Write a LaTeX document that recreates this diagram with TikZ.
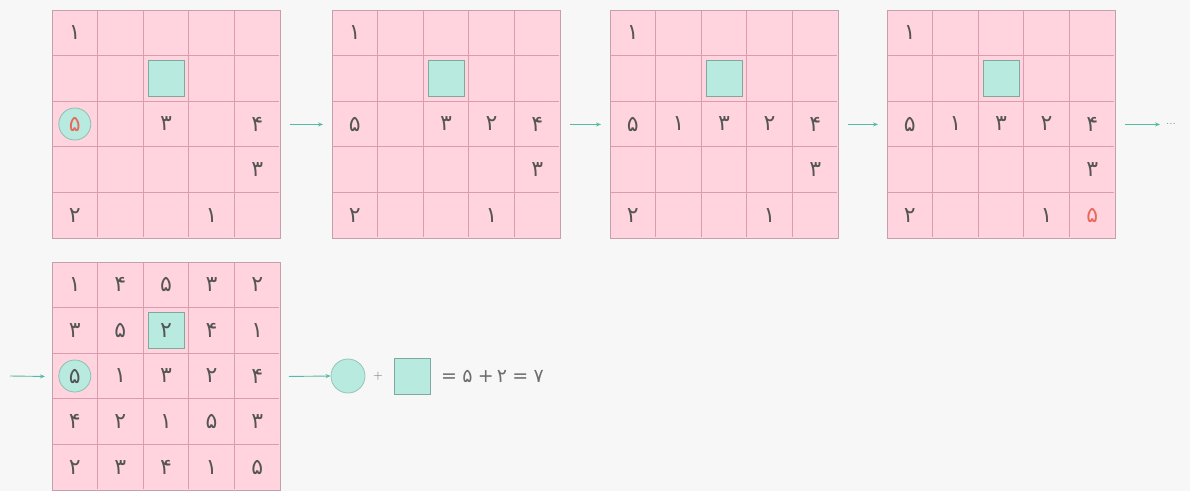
\documentclass[tikz,border=0pt]{standalone}
\usepackage{fontspec}
\newfontfamily\fa[Script=Arabic]{DejaVu Sans}
\usetikzlibrary{arrows.meta}
\definecolor{bgc}{HTML}{F7F7F7}
\definecolor{pinkfill}{HTML}{FFD4DF}
\definecolor{pinkline}{HTML}{DB9CB0}
\definecolor{pinkborder}{HTML}{C4A0AC}
\definecolor{hlfill}{HTML}{B8EAE0}
\definecolor{hlline}{HTML}{7FA99C}
\definecolor{arrc}{HTML}{55BBA2}
\definecolor{digc}{HTML}{555555}
\definecolor{redc}{HTML}{E8685A}
\tikzset{
  gridbox/.style={draw=pinkborder, fill=pinkfill, minimum width=228, minimum height=228, inner sep=0pt, line width=0.9pt, anchor=north west},
  cellline/.style={draw=pinkline, line width=1.1pt},
  dig/.style={font=\fa\fontsize{22}{22}\selectfont, text=digc, inner sep=0pt},
  reddig/.style={dig, text=redc},
  sqhl/.style={draw=hlline, fill=hlfill, minimum size=36, inner sep=0pt, line width=0.8pt},
  circhl/.style={circle, draw=hlline!70!hlfill, fill=hlfill, minimum size=32, inner sep=0pt, line width=0.8pt},
  arr/.style={draw=arrc, line width=0.9pt, -{Stealth[length=5pt,width=4pt]}},
  eqtxt/.style={font=\fa\fontsize{19}{19}\selectfont, text=digc!85, inner sep=0pt}
}
% name, X, Y
\newcommand\drawgrid[3]{%
  \node[gridbox] (#1) at (#2,#3) {};
  \foreach \i in {1,...,4} {
    \draw[cellline] ({#2+\i*45.6},{#3+1}) -- ++(0,226);
    \draw[cellline] ({#2+1},{#3+\i*45.6}) -- ++(226,0);
  }
  \draw[pinkborder, line width=0.9pt] (#1.north west) rectangle (#1.south east);
}
% name, X, Y, col, row, digit, style
\newcommand\putd[7]{%
  \node[#7] (#1) at ({#2+(#4-0.5)*45.6},{#3+(#5-0.5)*45.6}) {#6};
}
\begin{document}
\begin{tikzpicture}[x=1pt,y=-1pt]
\useasboundingbox (0,0) rectangle (1190,491);
\fill[bgc] (0,0) rectangle (1190,491);

% ---------- grid 1 ----------
\drawgrid{g1}{52}{10}
\putd{g1s}{52}{10}{3}{2}{}{sqhl}
\putd{g1c}{52}{10}{1}{3}{}{circhl}
\putd{g1a}{52}{10}{1}{1}{۱}{dig}
\putd{g1b}{52}{10}{1}{3}{۵}{reddig}
\putd{g1d}{52}{10}{3}{3}{۳}{dig}
\putd{g1e}{52}{10}{5}{3}{۴}{dig}
\putd{g1f}{52}{10}{5}{4}{۳}{dig}
\putd{g1g}{52}{10}{1}{5}{۲}{dig}
\putd{g1h}{52}{10}{4}{5}{۱}{dig}

% ---------- grid 2 ----------
\drawgrid{g2}{332}{10}
\putd{g2s}{332}{10}{3}{2}{}{sqhl}
\putd{g2a}{332}{10}{1}{1}{۱}{dig}
\putd{g2b}{332}{10}{1}{3}{۵}{dig}
\putd{g2d}{332}{10}{3}{3}{۳}{dig}
\putd{g2i}{332}{10}{4}{3}{۲}{dig}
\putd{g2e}{332}{10}{5}{3}{۴}{dig}
\putd{g2f}{332}{10}{5}{4}{۳}{dig}
\putd{g2g}{332}{10}{1}{5}{۲}{dig}
\putd{g2h}{332}{10}{4}{5}{۱}{dig}

% ---------- grid 3 ----------
\drawgrid{g3}{610}{10}
\putd{g3s}{610}{10}{3}{2}{}{sqhl}
\putd{g3a}{610}{10}{1}{1}{۱}{dig}
\putd{g3b}{610}{10}{1}{3}{۵}{dig}
\putd{g3j}{610}{10}{2}{3}{۱}{dig}
\putd{g3d}{610}{10}{3}{3}{۳}{dig}
\putd{g3i}{610}{10}{4}{3}{۲}{dig}
\putd{g3e}{610}{10}{5}{3}{۴}{dig}
\putd{g3f}{610}{10}{5}{4}{۳}{dig}
\putd{g3g}{610}{10}{1}{5}{۲}{dig}
\putd{g3h}{610}{10}{4}{5}{۱}{dig}

% ---------- grid 4 ----------
\drawgrid{g4}{887}{10}
\putd{g4s}{887}{10}{3}{2}{}{sqhl}
\putd{g4a}{887}{10}{1}{1}{۱}{dig}
\putd{g4b}{887}{10}{1}{3}{۵}{dig}
\putd{g4j}{887}{10}{2}{3}{۱}{dig}
\putd{g4d}{887}{10}{3}{3}{۳}{dig}
\putd{g4i}{887}{10}{4}{3}{۲}{dig}
\putd{g4e}{887}{10}{5}{3}{۴}{dig}
\putd{g4f}{887}{10}{5}{4}{۳}{dig}
\putd{g4g}{887}{10}{1}{5}{۲}{dig}
\putd{g4h}{887}{10}{4}{5}{۱}{dig}
\putd{g4k}{887}{10}{5}{5}{۵}{reddig}

% ---------- grid 5 ----------
\drawgrid{g5}{52}{262}
\putd{g5s}{52}{262}{3}{2}{}{sqhl}
\putd{g5c}{52}{262}{1}{3}{}{circhl}
\foreach \row [count=\r] in {{۱,۴,۵,۳,۲},{۳,۵,۲,۴,۱},{۵,۱,۳,۲,۴},{۴,۲,۱,۵,۳},{۲,۳,۴,۱,۵}} {
  \foreach \d [count=\c] in \row {
    \putd{g5-\c-\r}{52}{262}{\c}{\r}{\d}{dig}
  }
}

% ---------- arrows top row ----------
\draw[arr] ([xshift=9pt]g1.east) -- ([xshift=-9pt]g2.west);
\draw[arr] ([xshift=9pt]g2.east) -- ([xshift=-9pt]g3.west);
\draw[arr] ([xshift=9pt]g3.east) -- ([xshift=-9pt]g4.west);
\node[font=\fontsize{12}{12}\selectfont, text=digc!70, inner sep=0pt, anchor=west] (dots) at (1166,124) {...};
\draw[arr] ([xshift=9pt]g4.east) -- ([xshift=-6pt]g4.east -| dots.west);

% ---------- second row ----------
\coordinate (start) at (10,376);
\draw[arr] (start) -- ([xshift=-7pt]g5.west);
\node[circle, draw=hlline!60!hlfill, fill=hlfill, minimum size=34, inner sep=0pt, line width=0.8pt] (ec) at (348,376) {};
\node[eqtxt, font=\fontsize{13}{13}\selectfont] (plus) at (378,376) {+};
\node[sqhl] (es) at (412,376) {};
\node[eqtxt, anchor=west] (eq) at (441,376) {=\;۵\;+\,۲\;=\;۷};
\draw[arr] ([xshift=8pt]g5.east) -- (ec.west);
\end{tikzpicture}
\end{document}
